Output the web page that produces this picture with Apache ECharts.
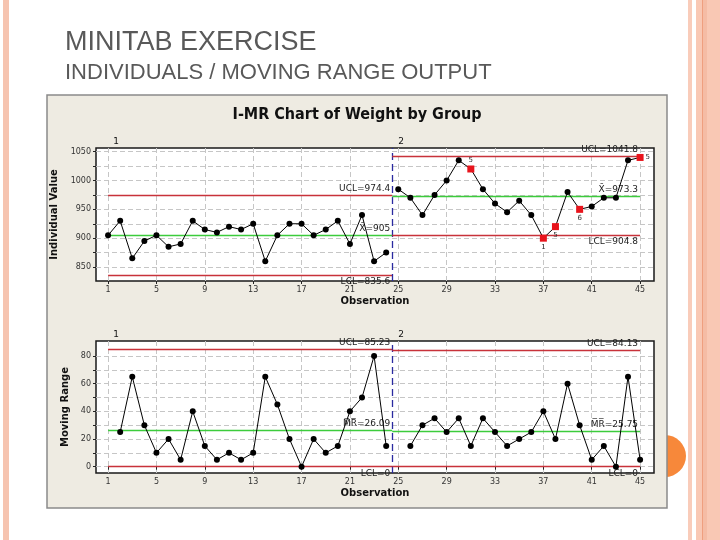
<!DOCTYPE html>
<html><head><meta charset="utf-8">
<script src="https://cdn.jsdelivr.net/npm/echarts@6/dist/echarts.min.js"></script>
<style>html,body{margin:0;padding:0;background:#fff}#c{width:720px;height:540px}</style>
</head><body><div id="c"></div>
<script>
// ---------- data ----------
const observations = [1,2,3,4,5,6,7,8,9,10,11,12,13,14,15,16,17,18,19,20,21,22,23,24,25,26,27,28,29,30,31,32,33,34,35,36,37,38,39,40,41,42,43,44,45];
const groups = [1,1,1,1,1,1,1,1,1,1,1,1,1,1,1,1,1,1,1,1,1,1,1,1,2,2,2,2,2,2,2,2,2,2,2,2,2,2,2,2,2,2,2,2,2];
const weight = [905,930,865,895,905,885,890,930,915,910,920,915,925,860,905,925,925,905,915,930,890,940,860,875,
                985,970,940,975,1000,1035,1020,985,960,945,965,940,900,920,980,950,955,970,970,1035,1040];
const movingRange = [null,25,65,30,10,20,5,40,15,5,10,5,10,65,45,20,0,20,10,15,40,50,80,15,
                     null,15,30,35,25,35,15,35,25,15,20,25,40,20,60,30,5,15,0,65,5];
const stageLabels = ['1','2'];
const stageRanges = [[1,24.5],[24.5,45]];
const iUCL = [974.4, 1041.8];
const iCenter = [905, 973.3];
const iLCL = [835.6, 904.8];
const mrUCL = [85.23, 84.13];
const mrCenter = [26.09, 25.75];
const mrLCL = [0, 0];
const flaggedObs = [31,37,38,40,45];
const flaggedTests = ['5','1','5','6','5'];
const xTickLabels = [1,5,9,13,17,21,25,29,33,37,41,45];
const iTickLabels = [850,900,950,1000,1050];
const iGridValues = [850,875,900,925,950,975,1000,1025,1050];
const mrTickLabels = [0,20,40,60,80];
const mrGridValues = [0,10,20,30,40,50,60,70,80];

// ---------- styling ----------
const RED = '#c8323a', GREEN = '#3ccc3c', BLUE = '#2a2aa0';
const FONT = 'DejaVu Sans';
const flagLabelPos = {31:'top',37:'bottom',38:'bottom',40:'bottom',45:'right'};

function xAxisCfg(gi){
  return {type:'value', gridIndex:gi, min:0, max:46.15,
    name:'Observation', nameLocation:'middle', nameGap:15,
    nameTextStyle:{fontFamily:FONT, fontWeight:'bold', fontSize:10, color:'#111'},
    axisLine:{show:false},
    axisTick:{show:true, customValues:xTickLabels, length:3, lineStyle:{color:'#222'}},
    axisLabel:{customValues:xTickLabels, fontSize:8, color:'#333', margin:5, fontFamily:FONT, formatter:v=>String(v)},
    splitLine:{show:true, lineStyle:{type:[5,3], color:'#c6c6c6', width:1}}};
}
function yAxisCfg(gi, name, min, max, labels, gridv, gap){
  return {type:'value', gridIndex:gi, min, max,
    name, nameLocation:'middle', nameGap:gap,
    nameTextStyle:{fontFamily:FONT, fontWeight:'bold', fontSize:10, color:'#111'},
    axisLine:{show:false},
    axisTick:{show:true, customValues:gridv, length:3, lineStyle:{color:'#222'}},
    axisLabel:{customValues:labels, fontSize:8, color:'#333', margin:5, fontFamily:FONT, formatter:v=>String(v)},
    splitLine:{show:true, lineStyle:{type:[5,3], color:'#c6c6c6', width:1}}};
}
function limitLines(s, ucl, cen, lcl, cenName){
  const [a,b] = stageRanges[s];
  const lbl = (txt,pos)=>({show:true, formatter:txt, position:pos, fontSize:9, color:'#222', fontFamily:FONT, distance:2});
  return [
    [{coord:[a,ucl[s]], lineStyle:{color:RED,width:1.3,type:'solid'}, label:lbl('UCL='+ucl[s],'insideEndTop')},{coord:[b,ucl[s]]}],
    [{coord:[a,cen[s]], lineStyle:{color:GREEN,width:1.3,type:'solid'}, label:lbl(cenName+'='+cen[s],'insideEndTop')},{coord:[b,cen[s]]}],
    [{coord:[a,lcl[s]], lineStyle:{color:RED,width:1.3,type:'solid'}, label:lbl('LCL='+lcl[s],'insideEndBottom')},{coord:[b,lcl[s]]}]
  ];
}
const divider = {xAxis:stageRanges[0][1], lineStyle:{color:BLUE,type:[7,4],width:1.3}, label:{show:false}};

function seriesFor(values, gi, stage, ucl, cen, lcl, cenName, withFlags){
  const data = [];
  observations.forEach((o,i)=>{
    if (groups[i] !== stage+1) return;
    const v = values[i];
    if (withFlags && flaggedObs.includes(o)) {
      const k = flaggedObs.indexOf(o);
      data.push({value:[o,v], symbol:'rect', symbolSize:7, itemStyle:{color:'#e8141c'},
        label:{show:true, formatter:flaggedTests[k], position:flagLabelPos[o], fontSize:7, color:'#333', distance:2, fontFamily:FONT}});
    } else {
      data.push([o, v]);
    }
  });
  const ml = limitLines(stage, ucl, cen, lcl, cenName);
  if (stage === 0) ml.push(divider);
  return {type:'line', xAxisIndex:gi, yAxisIndex:gi, data, connectNulls:false,
    symbol:'circle', symbolSize:6, showSymbol:true,
    lineStyle:{color:'#000', width:1}, itemStyle:{color:'#000'},
    animation:false, z:5,
    markLine:{silent:true, symbol:['none','none'], data:ml, animation:false}};
}

const XBAR = 'X\u0304', MRBAR = 'M\u0305R\u0305';

const chart = echarts.init(document.getElementById('c'), null, {renderer:'canvas'});
chart.setOption({
  animation:false,
  backgroundColor:'#ffffff',
  grid:[
    {left:96, top:148, width:558, height:133, show:true, backgroundColor:'#ffffff', borderColor:'#1a1a1a', borderWidth:1.5, containLabel:false},
    {left:96, top:341, width:558, height:132, show:true, backgroundColor:'#ffffff', borderColor:'#1a1a1a', borderWidth:1.5, containLabel:false}
  ],
  xAxis:[xAxisCfg(0), xAxisCfg(1)],
  yAxis:[
    yAxisCfg(0,'Individual Value',825.7,1056.4,iTickLabels,iGridValues,29),
    yAxisCfg(1,'Moving Range',-4.56,90.85,mrTickLabels,mrGridValues,22)
  ],
  series:[
    seriesFor(weight,0,0,iUCL,iCenter,iLCL,XBAR,true),
    seriesFor(weight,0,1,iUCL,iCenter,iLCL,XBAR,true),
    seriesFor(movingRange,1,0,mrUCL,mrCenter,mrLCL,MRBAR,false),
    seriesFor(movingRange,1,1,mrUCL,mrCenter,mrLCL,MRBAR,false)
  ],
  graphic:[
    {type:'rect', z:-20, shape:{x:3,y:0,width:6,height:540}, style:{fill:'#f6c4b0'}},
    {type:'rect', z:-20, shape:{x:688,y:0,width:4,height:540}, style:{fill:'#f9ccba'}},
    {type:'rect', z:-20, shape:{x:696,y:0,width:24,height:540}, style:{fill:'#f9c8b4'}},
    {type:'rect', z:-19, shape:{x:702,y:0,width:1,height:540}, style:{fill:'#ef9f7f'}},
    {type:'rect', z:-19, shape:{x:703,y:0,width:4,height:540}, style:{fill:'#f5bca5'}},
    {type:'circle', z:-20, shape:{cx:665,cy:456,r:21}, style:{fill:'#f7883a'}},
    {type:'rect', z:-10, shape:{x:47,y:95,width:620,height:413}, style:{fill:'#eeebe2', stroke:'#8a8a8a', lineWidth:1.5}},
    {type:'text', z:10, style:{text:'MINITAB EXERCISE', x:65, y:43, fontSize:27, fontFamily:'Liberation Sans Narrow, Liberation Sans', fill:'#595959', textVerticalAlign:'middle'}},
    {type:'text', z:10, style:{text:'INDIVIDUALS / MOVING RANGE OUTPUT', x:65, y:73, fontSize:22, fontFamily:'Liberation Sans Narrow, Liberation Sans', fill:'#595959', textVerticalAlign:'middle'}},
    {type:'text', z:10, style:{text:'I-MR Chart of Weight by Group', x:357, y:115, fontSize:16, fontWeight:'bold', fontFamily:'DejaVu Sans Condensed, Liberation Sans', fill:'#111', textAlign:'center', textVerticalAlign:'middle'}},
    {type:'text', z:10, style:{text:stageLabels[0], x:116, y:142, fontSize:9, fontFamily:FONT, fill:'#111', textAlign:'center', textVerticalAlign:'middle'}},
    {type:'text', z:10, style:{text:stageLabels[1], x:401, y:142, fontSize:9, fontFamily:FONT, fill:'#111', textAlign:'center', textVerticalAlign:'middle'}},
    {type:'text', z:10, style:{text:stageLabels[0], x:116, y:335, fontSize:9, fontFamily:FONT, fill:'#111', textAlign:'center', textVerticalAlign:'middle'}},
    {type:'text', z:10, style:{text:stageLabels[1], x:401, y:335, fontSize:9, fontFamily:FONT, fill:'#111', textAlign:'center', textVerticalAlign:'middle'}}
  ]
});
</script></body></html>
